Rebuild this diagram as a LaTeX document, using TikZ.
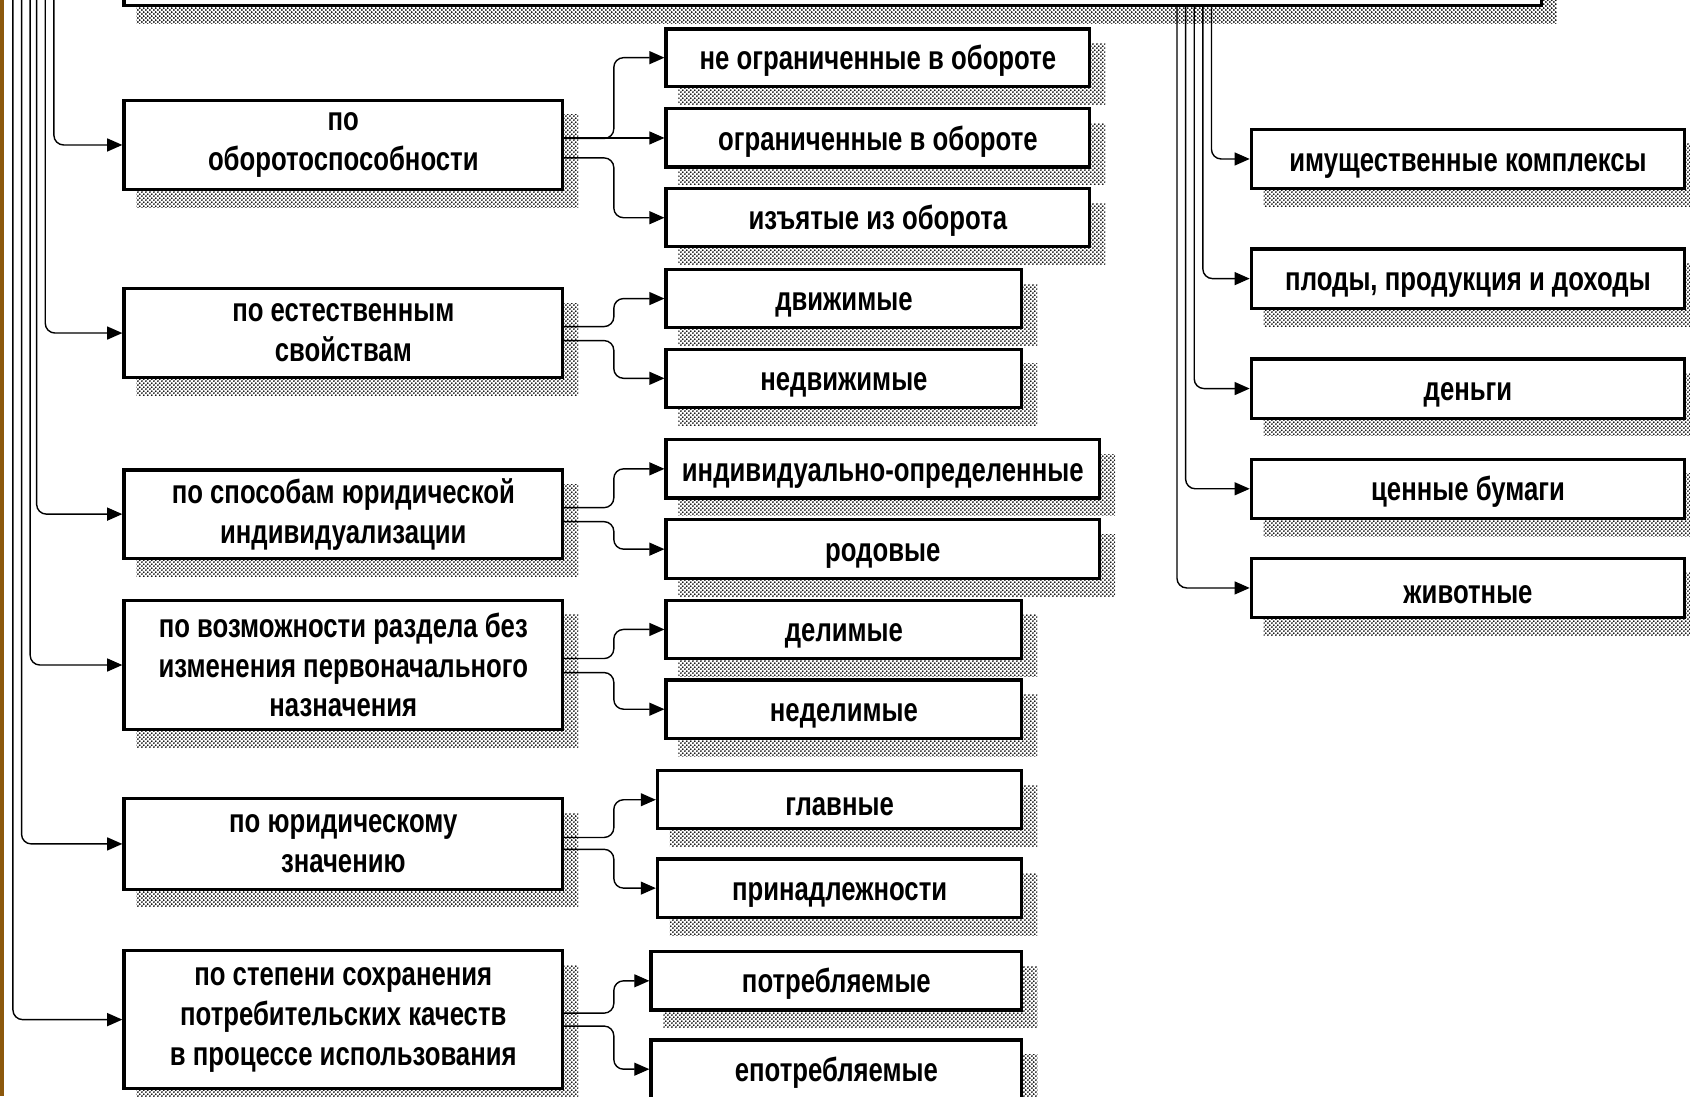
\documentclass[tikz,border=0pt]{standalone}
\usepackage{fontspec}
\setmainfont[FakeStretch=0.77]{Liberation Sans}
\usetikzlibrary{calc, arrows.meta, positioning, patterns, backgrounds}
\definecolor{slidebrown}{RGB}{140,88,12}
\pgfdeclarepatternformonly{shadowdots}{\pgfpointorigin}{\pgfqpoint{4pt}{4pt}}{\pgfqpoint{4pt}{4pt}}{%
  \pgfpathcircle{\pgfqpoint{1pt}{1pt}}{1.05pt}%
  \pgfpathcircle{\pgfqpoint{3pt}{3pt}}{1.05pt}%
  \pgfusepath{fill}}

\begin{document}
\begin{tikzpicture}[x=1pt, y=-1pt,
    itembox/.style={draw, line width=3pt, fill=white, inner sep=0pt, align=center,
      minimum height=54pt, font=\fontsize{31}{37}\selectfont\bfseries,
      execute at begin node={\rule{0pt}{29pt}}},
    tobox/.style={line width=1.3pt, rounded corners=9pt, -{Triangle[length=14pt,width=12pt]}},
    dropdots/.style={pattern=shadowdots, pattern color=black}]
        \useasboundingbox (0,0) rectangle (1568,1017);
        \clip (0,0) rectangle (1568,1017);

        % root box, cut by the top edge
        \node[itembox, minimum width=1315pt, minimum height=65pt] (root) at (772.5,-27.5) {};

        % left column
        \node[itembox, minimum width=407pt, minimum height=83pt] (bycirc) at (318.5,134.5) {по\\оборотоспособности};
        \node[itembox, minimum width=407pt, minimum height=82pt] (bynature) at (318.5,309) {по естественным\\свойствам};
        \node[itembox, minimum width=407pt, minimum height=82pt] (byindiv) at (318.5,477) {по способам юридической\\индивидуализации};
        \node[itembox, minimum width=407pt, minimum height=120pt] (bydiv) at (318.5,617) {по возможности раздела без\\изменения первоначального\\назначения};
        \node[itembox, minimum width=407pt, minimum height=84pt] (bylegal) at (318.5,783) {по юридическому\\значению};
        \node[itembox, minimum width=407pt, minimum height=128pt] (byuse) at (318.5,946) {по степени сохранения\\потребительских качеств\\в процессе использования};

        % middle column
        \node[itembox, minimum width=393pt, minimum height=53pt] (free) at (814.5,53.5) {не ограниченные в обороте};
        \node[itembox, minimum width=393pt] (limited) at (814.5,128) {ограниченные в обороте};
        \node[itembox, minimum width=393pt] (withdrawn) at (814.5,202) {изъятые из оборота};
        \node[itembox, minimum width=330pt] (movable) at (783,277) {движимые};
        \node[itembox, minimum width=330pt] (immovable) at (783,351) {недвижимые};
        \node[itembox, minimum width=402pt] (indiv) at (819,435) {индивидуально-определенные};
        \node[itembox, minimum width=402pt, minimum height=55pt] (generic) at (819,509.5) {родовые};
        \node[itembox, minimum width=330pt] (divisible) at (783,584) {делимые};
        \node[itembox, minimum width=330pt] (indivisible) at (783,658) {неделимые};
        \node[itembox, minimum width=338pt] (principal) at (779,742) {главные};
        \node[itembox, minimum width=338pt] (accessory) at (779,824) {принадлежности};
        \node[itembox, minimum width=344pt] (consumable) at (776,910) {потребляемые};
        \node[itembox, minimum width=344pt] (nonconsumable) at (776,992) {епотребляемые};

        % right column
        \node[itembox, minimum width=402pt, minimum height=55pt] (complex) at (1362,147.5) {имущественные комплексы};
        \node[itembox, minimum width=402pt, minimum height=55pt] (fruits) at (1362,258.5) {плоды, продукция и доходы};
        \node[itembox, minimum width=402pt, minimum height=55pt] (money) at (1362,360.5) {деньги};
        \node[itembox, minimum width=402pt, minimum height=55pt] (securities) at (1362,453.5) {ценные бумаги};
        \node[itembox, minimum width=402pt, minimum height=55pt] (animals) at (1362,545.5) {животные};

        % shadows and slide edge
        \begin{pgfonlayer}{background}
            \clip (0,0) rectangle (1568,1017);
            \fill[white] (0,0) rectangle (1568,1017);
            \foreach \n in {root,bycirc,bynature,byindiv,bydiv,bylegal,byuse,free,limited,withdrawn,movable,immovable,indiv,generic,divisible,indivisible,principal,accessory,consumable,nonconsumable,complex,fruits,money,securities,animals}
                \fill[dropdots] ($(\n.south west)+(13,15)$) rectangle ($(\n.north east)+(13,15)$);
        \end{pgfonlayer}
        \fill[slidebrown] (0,0) rectangle (4,1017);

        % branches from the left
        \foreach \n/\x in {bycirc/50, bynature/42, byindiv/34, bydiv/28, bylegal/20, byuse/12} {
            \coordinate (top\n) at (\x,-2);
            \draw[tobox] (top\n) |- (\n.west);
        }

        % branches from the root box
        \foreach \n/\x in {complex/1124, fruits/1116, money/1108, securities/1100, animals/1092} {
            \coordinate (top\n) at (\x,5);
            \draw[tobox] (top\n) |- (\n.west);
        }

        % split into the kinds
        \draw[tobox] ($(bycirc.east)+(0,-6)$) -- ++(46,0) |- (free.west);
        \draw[tobox] (bycirc.east |- limited.west) -- (limited.west);
        \draw[tobox] ($(bycirc.east)+(0,12)$) -- ++(46,0) |- (withdrawn.west);

        \draw[tobox] ($(bynature.east)+(0,-6)$) -- ++(46,0) |- (movable.west);
        \draw[tobox] ($(bynature.east)+(0,7)$) -- ++(46,0) |- (immovable.west);

        \draw[tobox] ($(byindiv.east)+(0,-6)$) -- ++(46,0) |- (indiv.west);
        \draw[tobox] ($(byindiv.east)+(0,7)$) -- ++(46,0) |- (generic.west);

        \draw[tobox] ($(bydiv.east)+(0,-6)$) -- ++(46,0) |- (divisible.west);
        \draw[tobox] ($(bydiv.east)+(0,7)$) -- ++(46,0) |- (indivisible.west);

        \draw[tobox] ($(bylegal.east)+(0,-6)$) -- ++(46,0) |- (principal.west);
        \draw[tobox] ($(bylegal.east)+(0,5)$) -- ++(46,0) |- (accessory.west);

        \draw[tobox] ($(byuse.east)+(0,-6)$) -- ++(46,0) |- (consumable.west);
        \draw[tobox] ($(byuse.east)+(0,6)$) -- ++(46,0) |- (nonconsumable.west);
    \end{tikzpicture}
\end{document}
